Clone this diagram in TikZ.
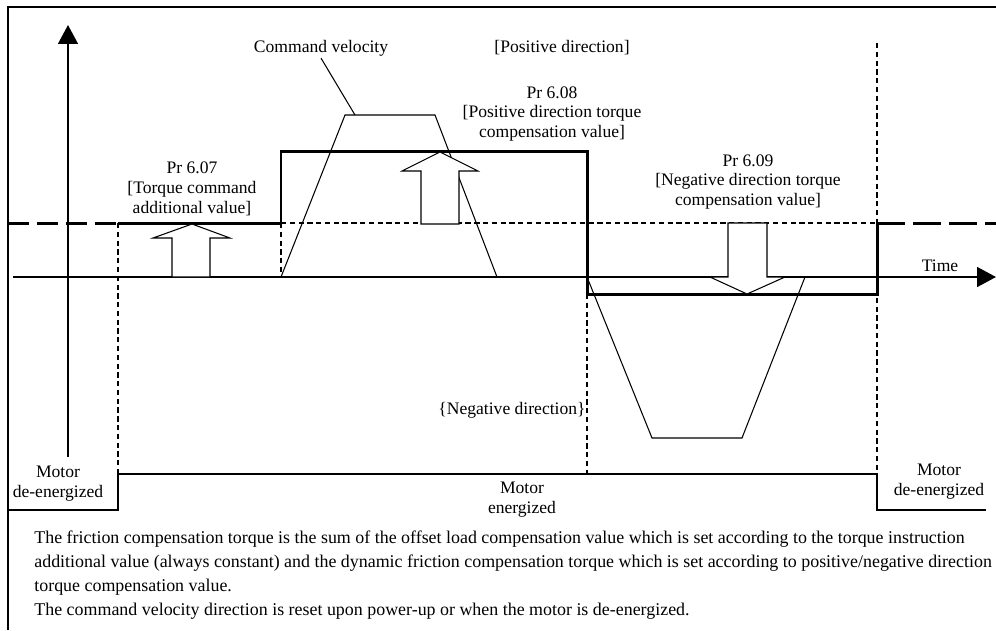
\documentclass[tikz,border=0pt]{standalone}
\usepackage{fontspec}
\setmainfont{Liberation Serif}
\usetikzlibrary{arrows.meta, positioning, calc}

\begin{document}
\begin{tikzpicture}[
    x=0.02cm, y=-0.02cm,
    font=\fontsize{10}{11.3}\selectfont,
    axis/.style={line width=1.1pt, -{Triangle[length=10.8pt, width=11.3pt]}},
    thinline/.style={line width=0.6pt},
    signal/.style={line width=1.7pt},
    guide/.style={line width=0.6pt, dash pattern=on 3pt off 2pt},
    blockarrow/.style={line width=0.6pt, fill=white},
    label/.style={align=center, inner sep=1pt}
]
    \useasboundingbox (0,0) rectangle (996,630);

    % frame
    \draw[line width=1.1pt] (8,630) -- (8,7) -- (996,7);

    % axes
    \coordinate (yfoot) at (68,457);
    \coordinate (ytop) at (68,25);
    \coordinate (tstart) at (13,277);
    \coordinate (tend) at (996,277);
    \draw[axis] (yfoot) -- (ytop);
    \draw[axis] (tstart) -- (tend);
    \node[label] (timelbl) at (940,266) {Time};

    % guide lines
    \draw[guide] (281,223) -- (877,223);
    \draw[guide] (118,223) -- (118,474);
    \draw[guide] (281,223) -- (281,277);
    \draw[guide] (587,294) -- (587,474);
    \draw[guide] (877,43) -- (877,474);

    % command velocity
    \draw[thinline] (281,277) -- (345,115) -- (435,115) -- (497,277);
    \draw[thinline] (587,277) -- (652,438) -- (742,438) -- (805,277);

    % friction compensation torque
    \draw[signal, dash pattern=on 12pt off 4.5pt] (8,223) -- (118,223);
    \draw[signal] (118,223) -- (281,223) -- (281,151) -- (587,151)
        -- (587,294) -- (877,294) -- (877,223);
    \draw[signal, dash pattern=on 16pt off 4.5pt] (877,223) -- (996,223);

    % block arrows
    \draw[blockarrow] (172,277) -- (172,238) -- (153,238) -- (192,224)
        -- (230,238) -- (210,238) -- (210,277) -- cycle;
    \draw[blockarrow] (421,224) -- (421,171) -- (402,171) -- (440,152)
        -- (478,171) -- (459,171) -- (459,224) -- cycle;
    \draw[blockarrow] (728,223) -- (767,223) -- (767,277) -- (785,277)
        -- (747,294) -- (710,277) -- (728,277) -- cycle;

    % motor state
    \draw[thinline] (8,510) -- (118,510) -- (118,474) -- (877,474)
        -- (877,510) -- (986,510);
    \node[label] (offleft) at (58,484) {Motor\\de-energized};
    \node[label] (onmid) at (522,500) {Motor\\energized};
    \node[label] (offright) at (939,482) {Motor\\de-energized};

    % labels
    \node[label] (cmdvel) at (321,48) {Command velocity};
    \coordinate (velpeak) at (355,115);
    \draw[thinline] (cmdvel.south) -- (velpeak);
    \node[label] (posdir) at (562,48) {[Positive direction]};
    \node[label] (negdir) at (512,410) {\{Negative direction\}};
    \node[label] (pr607) at (192,189) {Pr 6.07\\[0pt][Torque command\\additional value]};
    \node[label] (pr608) at (552,114) {Pr 6.08\\[0pt][Positive direction torque\\compensation value]};
    \node[label] (pr609) at (748,182) {Pr 6.09\\[0pt][Negative direction torque\\compensation value]};

    % note
    \node[anchor=north west, align=left, inner sep=0pt,
          font=\fontsize{10.2}{13.6}\selectfont] (note) at (34,531) {%
        The friction compensation torque is the sum of the offset load compensation value which is set according to the torque instruction\\
        additional value (always constant) and the dynamic friction compensation torque which is set according to positive/negative direction\\
        torque compensation value.\\
        The command velocity direction is reset upon power-up or when the motor is de-energized.};
\end{tikzpicture}
\end{document}
